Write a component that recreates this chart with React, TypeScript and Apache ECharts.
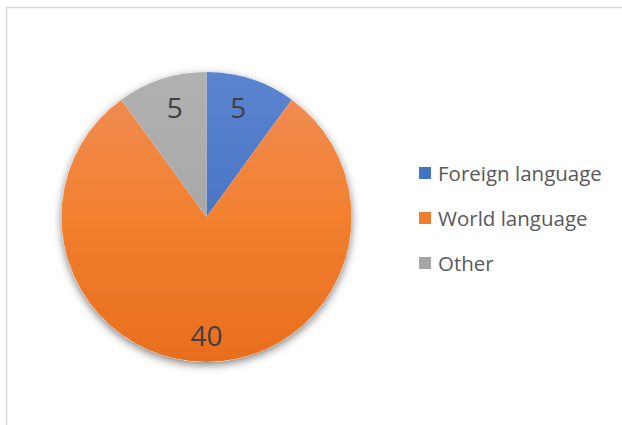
import React, { useEffect, useRef } from "react";
import * as echarts from "echarts";

const categories = ["Foreign language", "World language", "Other"];
const values = [5, 40, 5];
const topColors = ["#5b84cf", "#f08d58", "#b1b1b1"];
const midColors = ["#4a76c6", "#f2802f", "#a8a8a8"];
const bottomColors = ["#3f6bbd", "#e86e1d", "#9d9d9d"];
const solidColors = ["#4472C4", "#ED7D31", "#A5A5A5"];

export default function App() {
  const ref = useRef<HTMLDivElement>(null);
  useEffect(() => {
    if (!ref.current) return;
    const chart = echarts.init(ref.current, null, { renderer: "svg" });
    const cx = 206.5;
    const cy = 217;
    const R = 145;
    const grad = (i: number) =>
      new echarts.graphic.LinearGradient(
        0,
        cy - R,
        0,
        cy + R,
        [
          { offset: 0, color: topColors[i] },
          { offset: 0.5, color: midColors[i] },
          { offset: 1, color: bottomColors[i] },
        ],
        true
      );
    const data = categories.map((name, i) => ({
      name,
      value: values[i],
      itemStyle: { color: grad(i) },
    }));
    chart.setOption({
      animation: false,
      graphic: [
        {
          type: "rect",
          shape: { x: 6.5, y: 7.5, width: 700, height: 500 },
          style: { fill: "none", stroke: "#d9d9d9", lineWidth: 1.5 },
          z: 0,
        },
      ],
      legend: {
        orient: "vertical",
        left: 419,
        top: 162,
        padding: 0,
        icon: "rect",
        itemWidth: 12,
        itemHeight: 12,
        itemGap: 23,
        textStyle: {
          fontFamily: "Open Sans",
          fontSize: 20.5,
          color: "#595959",
          lineHeight: 22,
          padding: [0, 0, 0, 2],
        },
        data: categories.map((name, i) => ({
          name,
          itemStyle: { color: solidColors[i] },
        })),
      },
      series: [
        {
          type: "pie",
          center: [cx, cy],
          radius: [0, R],
          silent: true,
          z: 1,
          label: { show: false },
          labelLine: { show: false },
          itemStyle: {
            color: "#ffffff",
            shadowBlur: 9,
            shadowOffsetY: 3,
            shadowColor: "rgba(0,0,0,0.5)",
          },
          data: [{ name: "shadow", value: values.reduce((a, b) => a + b, 0) }],
          legendHoverLink: false,
        },
        {
          type: "pie",
          center: [cx, cy],
          radius: [0, R],
          startAngle: 90,
          clockwise: true,
          z: 2,
          label: { show: false },
          labelLine: { show: false },
          itemStyle: { borderWidth: 0 },
          data,
        },
        {
          type: "pie",
          center: [cx, cy],
          radius: [81, R],
          startAngle: 90,
          clockwise: true,
          silent: true,
          z: 3,
          itemStyle: { color: "rgba(0,0,0,0)" },
          label: {
            show: true,
            position: "inside",
            formatter: "{c}",
            fontFamily: "Open Sans",
            fontSize: 28,
            color: "#404040",
          },
          labelLayout: (p: any) =>
            p.dataIndex === 0 ? { dx: -4 } : p.dataIndex === 2 ? { dx: 4 } : { dy: 2 },
          labelLine: { show: false },
          data: categories.map((name, i) => ({ name, value: values[i] })),
        },
      ],
    });
    return () => chart.dispose();
  }, []);
  return (
    <div
      ref={ref}
      style={{ position: "fixed", left: 0, top: 0, width: 622, height: 425, background: "#ffffff" }}
    />
  );
}
